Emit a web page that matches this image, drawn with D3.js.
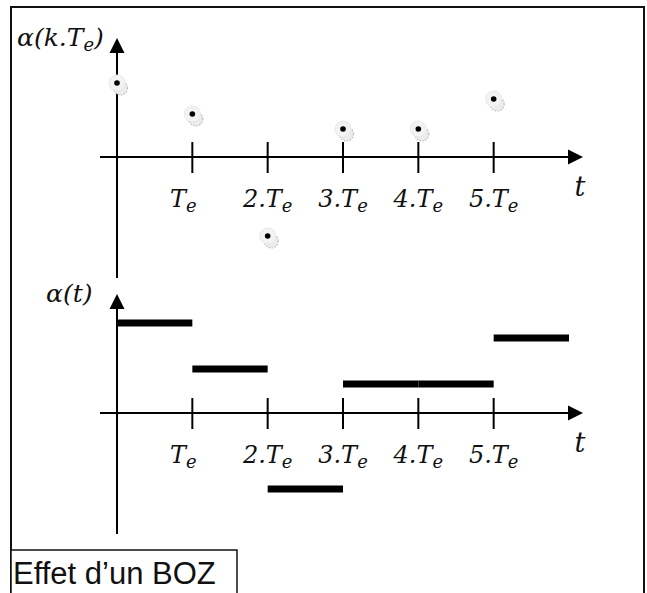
<!DOCTYPE html>
<html>
<head>
<meta charset="utf-8">
<script src="https://cdn.jsdelivr.net/npm/d3@7"></script>
<style>
  body { margin: 0; background: #fff; }
  svg { display: block; }
</style>
</head>
<body>
<div id="vis"></div>
<script>
// Data
const steps = [0, 1, 2, 3, 4, 5];
const tickPrefix = ["", "2.", "3.", "4.", "5."];
const tickSteps = [1, 2, 3, 4, 5];
const samples = [0.74, 0.43, -0.79, 0.28, 0.28, 0.58];   // alpha(k.Te)
const held = [0.90, 0.44, -0.76, 0.29, 0.29, 0.75];      // alpha(t) after the BOZ
const caption = "Effet d\u2019un BOZ";

const width = 647, height = 593;

const svg = d3.select("#vis").append("svg")
  .attr("width", width)
  .attr("height", height);

// Frame
svg.append("rect")
  .attr("x", 11).attr("y", 7)
  .attr("width", 633).attr("height", 600)
  .attr("fill", "none")
  .attr("stroke", "#111")
  .attr("stroke-width", 2);

// Shared time scale
const x = d3.scaleLinear().domain([0, 6]).range([117, 569]);

const serif = "'DejaVu Serif', serif";

function drawAxes(zero, yTop, yBottom, yLabel) {
  const g = svg.append("g");

  // y axis line + arrow
  g.append("line")
    .attr("x1", x(0)).attr("x2", x(0))
    .attr("y1", yTop + 14).attr("y2", yBottom)
    .attr("stroke", "#000").attr("stroke-width", 2);
  g.append("path")
    .attr("d", `M${x(0)},${yTop} L${x(0) - 7.5},${yTop + 15} L${x(0) + 7.5},${yTop + 15} Z`)
    .attr("fill", "#000");

  // x axis line + arrow
  g.append("line")
    .attr("x1", 100).attr("x2", 570)
    .attr("y1", zero).attr("y2", zero)
    .attr("stroke", "#000").attr("stroke-width", 2);
  g.append("path")
    .attr("d", `M583,${zero} L568,${zero - 7.5} L568,${zero + 7.5} Z`)
    .attr("fill", "#000");

  // ticks
  g.selectAll(".tick")
    .data(tickSteps)
    .enter().append("line")
    .attr("x1", (d) => x(d)).attr("x2", (d) => x(d))
    .attr("y1", zero - 15).attr("y2", zero + 16)
    .attr("stroke", "#000").attr("stroke-width", 2);

  // tick labels : "n.T" with subscript e
  const lbl = g.selectAll(".lbl")
    .data(tickSteps)
    .enter().append("text")
    .attr("x", (d, i) => x(d) + (i === 0 ? -9 : 0))
    .attr("y", zero + 50)
    .attr("text-anchor", "middle")
    .style("font-family", serif)
    .style("font-style", "italic")
    .style("font-size", "24px")
    .attr("fill", "#111");
  lbl.append("tspan").text((d, i) => tickPrefix[i] + "T");
  lbl.append("tspan").attr("dy", 5).style("font-size", "18px").text("e");

  // "t" label
  g.append("text")
    .attr("x", 580).attr("y", zero + 39)
    .attr("text-anchor", "middle")
    .style("font-family", serif)
    .style("font-style", "italic")
    .style("font-size", "27px")
    .attr("fill", "#111")
    .text("t");

  // y label
  const yl = g.append("text")
    .attr("x", yLabel.x).attr("y", yLabel.y)
    .style("font-family", serif)
    .style("font-style", "italic")
    .style("font-size", "25px")
    .attr("fill", "#111");
  yLabel.parts.forEach((p) => {
    const t = yl.append("tspan").text(p.text);
    if (p.sub) t.attr("dy", 5).style("font-size", "18px");
    if (p.up) t.attr("dy", -5);
  });
}

// Top chart: samples alpha(k.Te)
const yTop = d3.scaleLinear().domain([-1, 1]).range([257, 57]);
drawAxes(yTop(0), 38, 278, {
  x: 17, y: 46,
  parts: [{ text: "\u03b1(k.T" }, { text: "e", sub: true }, { text: ")", up: true }]
});

const pts = svg.append("g").selectAll(".pt")
  .data(steps)
  .enter().append("g")
  .attr("transform", (d) => `translate(${x(d)},${yTop(samples[d])})`);

pts.append("circle")
  .attr("cx", 3.5).attr("cy", 5).attr("r", 7)
  .attr("fill", "#ececec")
  .attr("stroke", "#b8b8b8")
  .attr("stroke-width", 1.2)
  .attr("stroke-dasharray", "1.5,1.5");
pts.append("circle")
  .attr("r", 8)
  .attr("fill", "#f3f3f3")
  .attr("stroke", "#e8e8e8");
pts.append("circle")
  .attr("r", 2.8)
  .attr("fill", "#000");

// Bottom chart: held values alpha(t)
const yBot = d3.scaleLinear().domain([-1, 1]).range([513, 313]);
drawAxes(yBot(0), 294, 534, {
  x: 46, y: 302,
  parts: [{ text: "\u03b1(t)" }]
});

svg.append("g").selectAll(".hold")
  .data(steps)
  .enter().append("rect")
  .attr("x", (d) => x(d))
  .attr("y", (d) => yBot(held[d]) - 3.5)
  .attr("width", (d) => x(d + 1) - x(d))
  .attr("height", 7)
  .attr("fill", "#000");

// Caption box
svg.append("rect")
  .attr("x", 11).attr("y", 550)
  .attr("width", 226).attr("height", 60)
  .attr("fill", "#fff")
  .attr("stroke", "#111")
  .attr("stroke-width", 1.5);

svg.append("text")
  .attr("x", 13).attr("y", 584)
  .style("font-family", "'Liberation Sans', Arial, sans-serif")
  .style("font-size", "31px")
  .attr("fill", "#111")
  .text(caption);
</script>
</body>
</html>
